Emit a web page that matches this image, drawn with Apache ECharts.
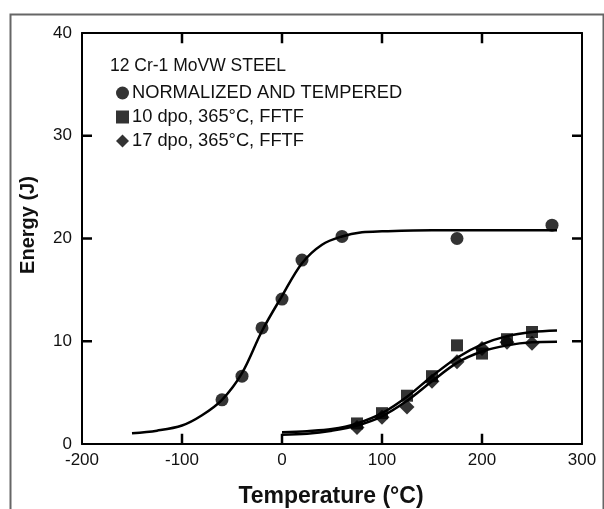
<!DOCTYPE html>
<html>
<head>
<meta charset="utf-8">
<script src="https://cdn.jsdelivr.net/npm/echarts@6/dist/echarts.min.js"></script>
<style>
html,body{margin:0;padding:0;background:#fff;}
#c{width:604px;height:509px;}
</style>
</head>
<body>
<div id="c"></div>
<script>
// ---- data ----
var xTicks = [-200, -100, 0, 100, 200, 300];
var yTicks = [0, 10, 20, 30, 40];

var seriesNames = ['NORMALIZED AND TEMPERED', '10 dpo, 365°C, FFTF', '17 dpo, 365°C, FFTF'];

// measured points [temperature °C, energy J]
var normalizedPts = [[-60, 4.3], [-40, 6.6], [-20, 11.3], [0, 14.1], [20, 17.9], [60, 20.2], [175, 20.0], [270, 21.3]];
var dpo10Pts = [[75, 2.0], [100, 3.0], [125, 4.7], [150, 6.6], [175, 9.6], [200, 8.8], [225, 10.2], [250, 10.9]];
var dpo17Pts = [[75, 1.6], [100, 2.6], [125, 3.6], [150, 6.1], [175, 8.0], [200, 9.3], [225, 9.9], [250, 9.8]];

// fitted curves
var normalizedCurve = [[-150, 1.05], [-125, 1.3], [-100, 1.8], [-80, 2.8], [-60, 4.3], [-40, 6.9], [-20, 11.0], [0, 14.4], [20, 17.6], [40, 19.4], [60, 20.2], [80, 20.6], [100, 20.7], [150, 20.8], [200, 20.8], [275, 20.8]];
var dpo10Curve = [[0, 1.15], [25, 1.25], [50, 1.45], [75, 2.0], [100, 3.0], [125, 4.6], [150, 6.6], [175, 8.4], [200, 9.7], [225, 10.5], [250, 10.9], [275, 11.05]];
var dpo17Curve = [[0, 0.9], [25, 1.0], [50, 1.3], [75, 1.8], [100, 2.7], [125, 4.2], [150, 6.1], [175, 7.9], [200, 9.0], [225, 9.6], [250, 9.9], [275, 9.95]];

var chartTitle = '12 Cr-1 MoVW STEEL';
var xName = 'Temperature (°C)';
var yName = 'Energy (J)';

// ---- chart ----
var FONT = 'Liberation Sans, Arial, Helvetica, sans-serif';
var X_MIN = xTicks[0], X_MAX = xTicks[xTicks.length - 1];
var Y_MIN = yTicks[0], Y_MAX = yTicks[yTicks.length - 1];
var TICK_DX = 10;   // inward tick length in x data units (~10 px)
var TICK_DY = 1.0;  // inward tick length in y data units (~10 px)
var chart = echarts.init(document.getElementById('c'), null, {renderer: 'canvas'});

function curve(data) {
  return {type: 'line', data: data, smooth: 0.35, symbol: 'none', silent: true,
    lineStyle: {color: '#000', width: 2.5}, z: 2, legendHoverLink: false};
}
function tickSeries(a, b) {
  return {type: 'line', data: [a, b], symbol: 'none', silent: true, z: 4,
    lineStyle: {color: '#000', width: 2.5, cap: 'butt'}, legendHoverLink: false};
}

var lineOnly = {
  axisLine: {show: true, onZero: false, lineStyle: {color: '#000', width: 2}},
  axisTick: {show: false}, splitLine: {show: false}
};
var xBase = {type: 'value', min: X_MIN, max: X_MAX, interval: 100};
var yBase = {type: 'value', min: Y_MIN, max: Y_MAX, interval: 10};

// inward tick marks on the four sides of the frame, drawn in data units
var tickMarks = [];
xTicks.slice(1, -1).forEach(function (v) {
  tickMarks.push(tickSeries([v, Y_MIN], [v, Y_MIN + TICK_DY]));
  tickMarks.push(tickSeries([v, Y_MAX], [v, Y_MAX - TICK_DY]));
});
yTicks.slice(1, -1).forEach(function (v) {
  tickMarks.push(tickSeries([X_MIN, v], [X_MIN + TICK_DX, v]));
  tickMarks.push(tickSeries([X_MAX, v], [X_MAX - TICK_DX, v]));
});

chart.setOption({
  animation: false,
  backgroundColor: '#fff',
  grid: {left: 82, top: 33, width: 500, height: 411, containLabel: false},
  title: {text: chartTitle, left: 105, top: 52,
    textStyle: {fontFamily: FONT, fontSize: 17.5, fontWeight: 'normal', color: '#111'}},
  legend: {
    data: seriesNames, orient: 'vertical', left: 111, top: 79,
    itemWidth: 13, itemHeight: 13, itemGap: 6,
    textStyle: {fontFamily: FONT, fontSize: 18.3, color: '#111', padding: [0, 0, 0, -2]}
  },
  xAxis: [
    Object.assign({}, xBase, lineOnly, {position: 'bottom',
      axisLabel: {fontFamily: FONT, fontSize: 17, color: '#111', margin: 8,
        formatter: function (v) { return xTicks.indexOf(v) >= 0 ? String(v) : ''; }}}),
    Object.assign({}, xBase, lineOnly, {position: 'top', axisLabel: {show: false}})
  ],
  yAxis: [
    Object.assign({}, yBase, lineOnly, {position: 'left',
      axisLabel: {fontFamily: FONT, fontSize: 17, color: '#111', margin: 10,
        formatter: function (v) { return yTicks.indexOf(v) >= 0 ? String(v) : ''; }}}),
    Object.assign({}, yBase, lineOnly, {position: 'right', axisLabel: {show: false}})
  ],
  graphic: [
    {type: 'rect', left: 8, top: 12, shape: {width: 593, height: 520},
      style: {fill: 'none', stroke: '#666', lineWidth: 2}, silent: true, z: -10},
    {type: 'text', x: 331, y: 497, silent: true,
      style: {text: xName, font: 'bold 23px ' + FONT, fill: '#111', textAlign: 'center', textVerticalAlign: 'middle'}},
    {type: 'text', x: 28, y: 225, rotation: Math.PI / 2, silent: true,
      style: {text: yName, font: 'bold 20px ' + FONT, fill: '#111', textAlign: 'center', textVerticalAlign: 'middle'}}
  ],
  series: [
    curve(normalizedCurve),
    curve(dpo10Curve),
    curve(dpo17Curve),
    {name: seriesNames[0], type: 'scatter', data: normalizedPts, symbol: 'circle', symbolSize: 13,
      itemStyle: {color: '#000'}, z: 3},
    {name: seriesNames[1], type: 'scatter', data: dpo10Pts, symbol: 'rect', symbolSize: 12,
      itemStyle: {color: '#000'}, z: 3},
    {name: seriesNames[2], type: 'scatter', data: dpo17Pts, symbol: 'diamond', symbolSize: 15,
      itemStyle: {color: '#000'}, z: 3}
  ].concat(tickMarks)
});
</script>
</body>
</html>
